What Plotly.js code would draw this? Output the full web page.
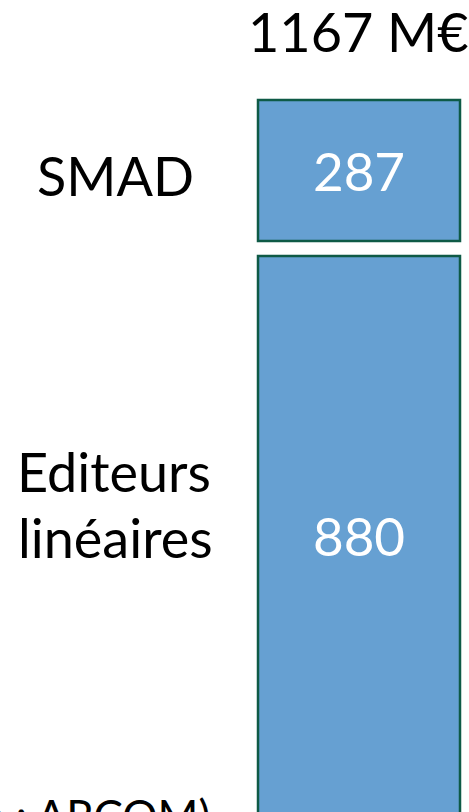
<!DOCTYPE html>
<html>
<head>
<meta charset="utf-8">
<script src="https://cdn.plot.ly/plotly-3.0.1.min.js"></script>
<style>
html,body{margin:0;padding:0;background:#fff;}
#chart{width:469px;height:812px;}
</style>
</head>
<body>
<div id="chart"></div>
<script>
// Data
const categories = ["Editeurs linéaires", "SMAD"];
const labelLines = [["Editeurs", "linéaires"], ["SMAD"]];
const values = [880, 287];
const unit = " M€";
const source = "(source : ARCOM)";

const W = 469, H = 812;
const FONT = "Lato, 'Open Sans', sans-serif";
const fill = "rgb(102,160,210)";
const edge = "rgb(14,90,70)";
const total = values.reduce((a, b) => a + b, 0);

function px2x(p){ return p / W; }
function py2y(p){ return 1 - p / H; }

// Bottom segment (Editeurs linéaires): top edge at pixel 256, base just below the picture
const ppu1 = (815 - 256) / values[0];
const top1 = 250;
const y1max = values[0] + (256 - top1) / ppu1;
const y1min = values[0] - (H - 256) / ppu1;

// Top segment (SMAD): from pixel 241 (base) to 100 (top)
const ppu2 = (241 - 100) / values[1];
const y2max = values[1] + 6 / ppu2;
const y2min = -6 / ppu2;

// x axis: bar spans pixels 258..460
const bpx = 460 - 258;
const xmin = -0.5 - 258 / bpx;
const xmax = 0.5 + (W - 460) / bpx;

const common = {
  type: "bar",
  x: [0],
  width: [1],
  marker: {color: fill, line: {color: edge, width: 2.5}},
  textposition: "inside",
  insidetextanchor: "middle",
  textfont: {family: FONT, size: 53, color: "#ffffff"},
  hoverinfo: "skip",
  showlegend: false,
  cliponaxis: true
};

const traces = [
  Object.assign({}, common, {y: [values[0]], text: [String(values[0])], name: categories[0], yaxis: "y"}),
  Object.assign({}, common, {y: [values[1]], text: [String(values[1])], name: categories[1], yaxis: "y2"})
];

const axisOff = {showgrid: false, zeroline: false, showticklabels: false, showline: false, ticks: "", fixedrange: true};

const labFont = {family: FONT, size: 54, color: "#000"};
const ann = (px, py, text, anchor, font) => ({xref: "paper", yref: "paper", x: px2x(px), y: py2y(py),
  xanchor: anchor || "center", yanchor: "middle", text: text, showarrow: false, font: font || labFont});

const layout = {
  width: W, height: H,
  margin: {l: 0, r: 0, t: 0, b: 0, pad: 0},
  paper_bgcolor: "#ffffff", plot_bgcolor: "#ffffff",
  xaxis: Object.assign({range: [xmin, xmax]}, axisOff),
  yaxis: Object.assign({range: [y1min, y1max], domain: [0, py2y(top1)]}, axisOff),
  yaxis2: Object.assign({range: [y2min, y2max], domain: [py2y(247), py2y(94)], anchor: "x"}, axisOff),
  font: {family: FONT, color: "#000000"},
  annotations: [
    ann(358, 32, total + unit),
    ann(115, 176, labelLines[1][0]),
    ann(114, 471, labelLines[0][0]),
    ann(115, 537, labelLines[0][1]),
    ann(212, 815, source, "right", {family: FONT, size: 44, color: "#000"})
  ]
};

Plotly.newPlot("chart", traces, layout, {displayModeBar: false, staticPlot: true});
</script>
</body>
</html>
